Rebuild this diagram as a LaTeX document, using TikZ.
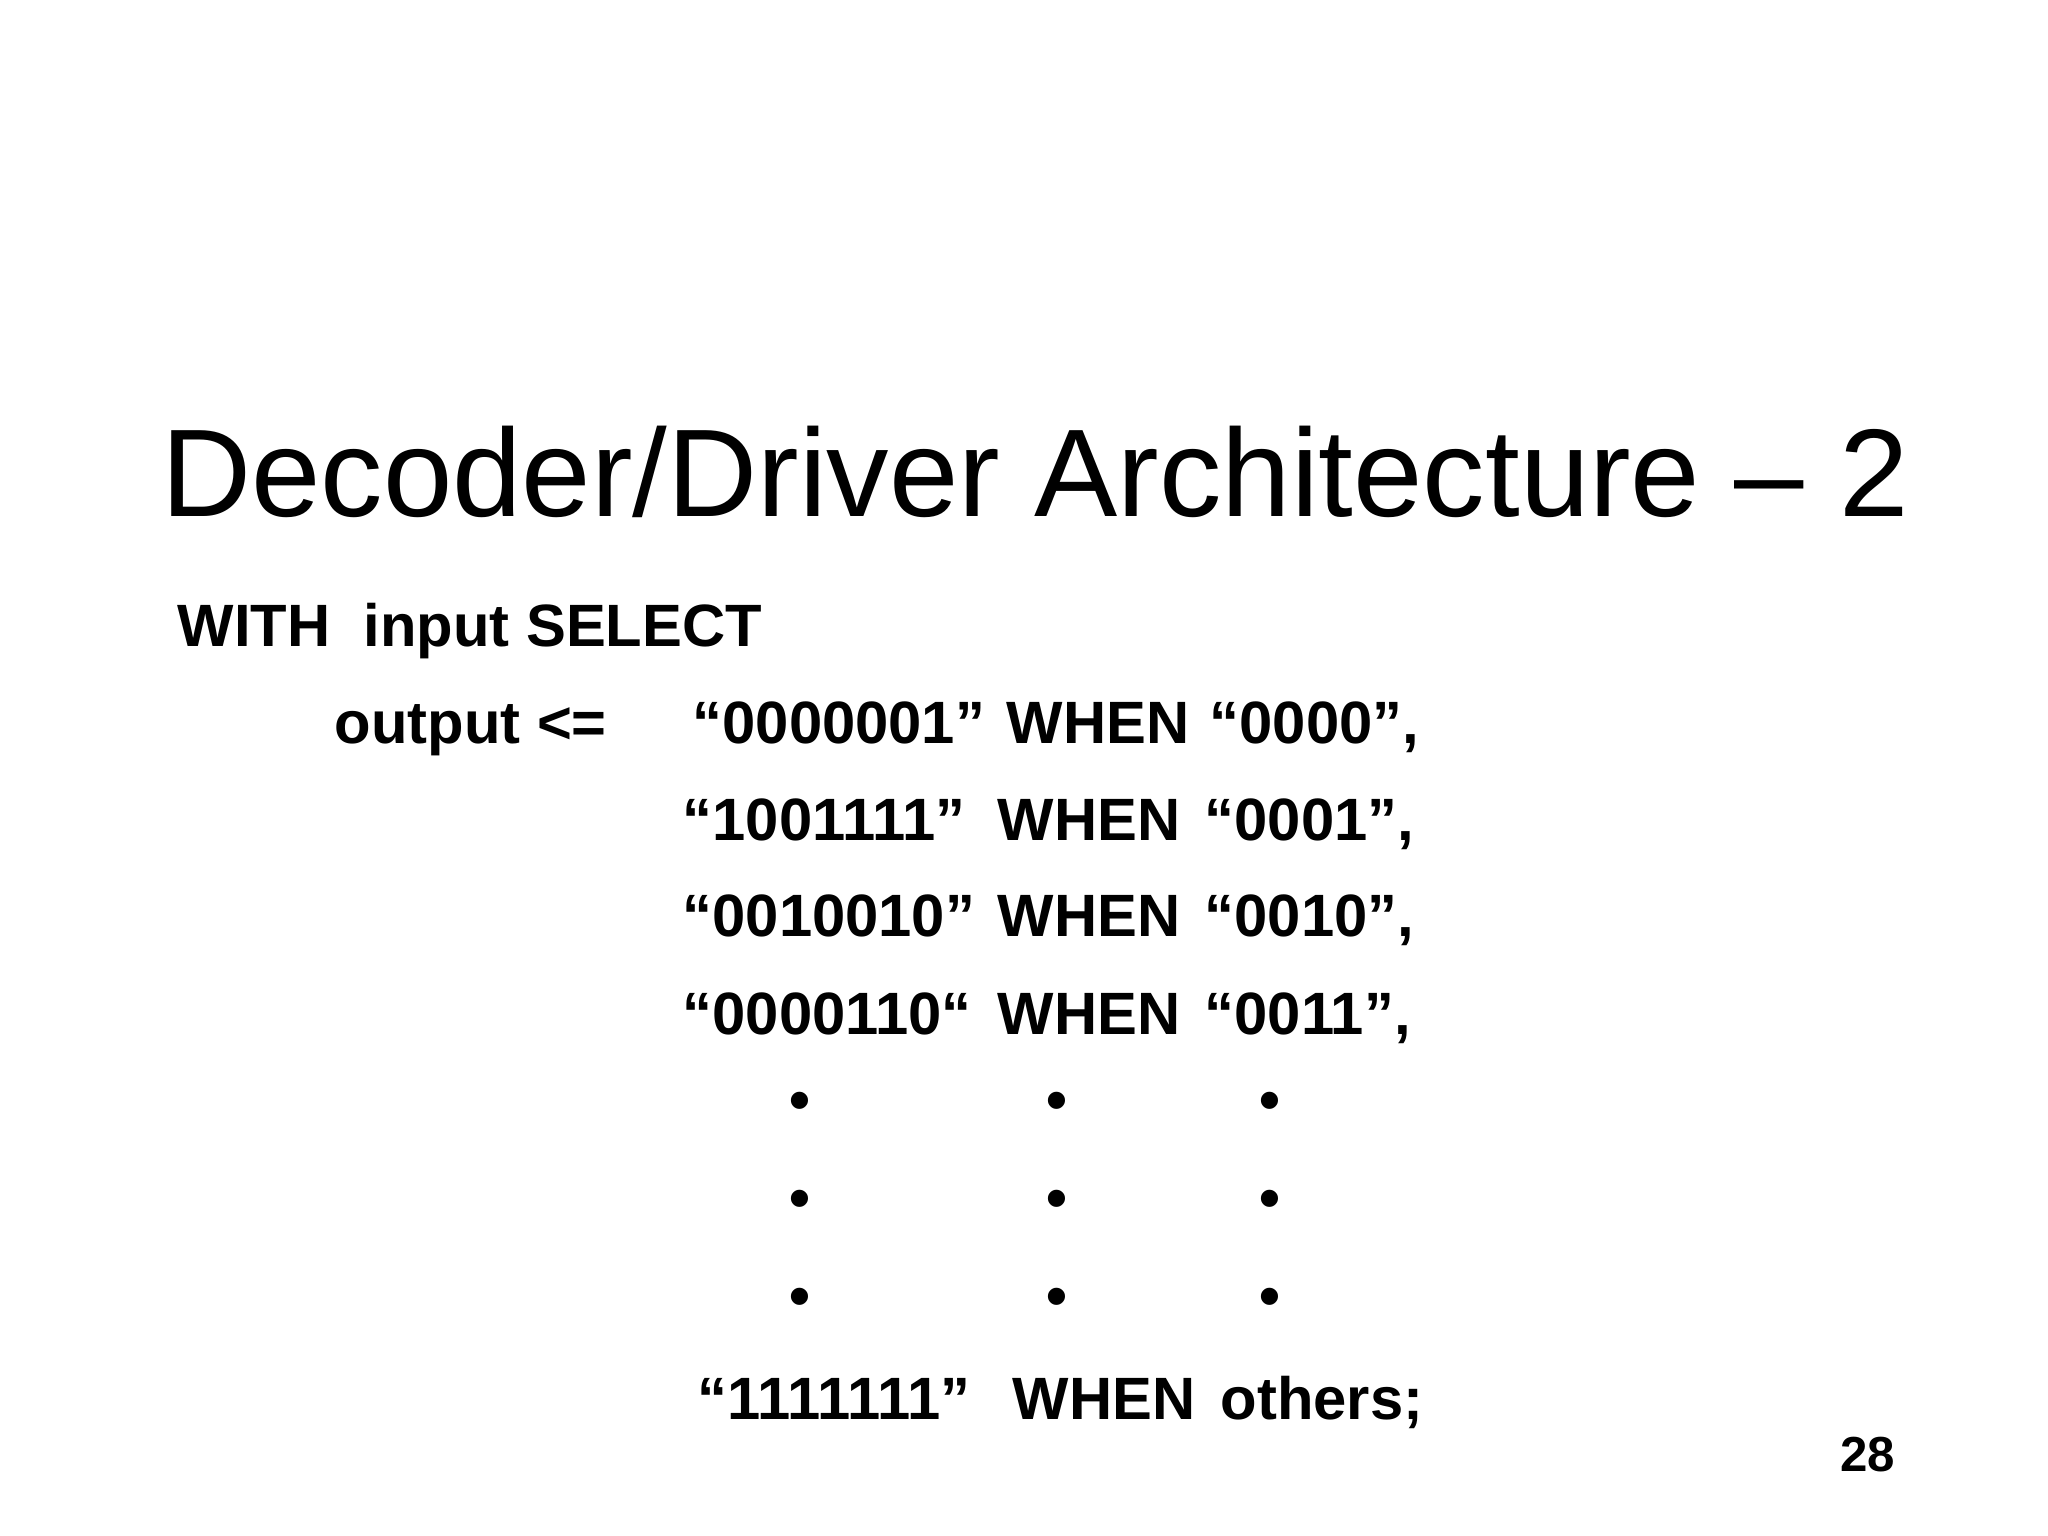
\documentclass[tikz,border=0pt]{standalone}
\usepackage{fontspec}
\setmainfont{Liberation Sans}
\begin{document}
\begin{tikzpicture}[x=1cm,y=1cm,
  code/.style={anchor=west,inner sep=0pt,text height=0.42cm,text depth=0cm,font=\fontsize{17}{20}\selectfont\bfseries},
  dot/.style={inner sep=0pt,font=\fontsize{17}{20}\selectfont\bfseries}]
\useasboundingbox (0,0) rectangle (20.48,15.36);
\node[inner sep=0pt,font=\fontsize{35.5}{40}\selectfont] (title) at (10.35,10.64) {Decoder/Driver Architecture -- 2};
\node[code] (with) at (1.77,15.36-6.26) {WITH\ \ input SELECT};
\node[code] (out) at (3.34,15.36-7.23) {output <=};
\node[code] (a1) at (6.92,15.36-7.23) {“0000001”};
\node[code] (b1) at (10.06,15.36-7.23) {WHEN};
\node[code] (c1) at (12.09,15.36-7.23) {“0000”,};
\node[code] (a2) at (6.82,15.36-8.20) {“1001111”};
\node[code] (b2) at (9.97,15.36-8.20) {WHEN};
\node[code] (c2) at (12.04,15.36-8.20) {“0001”,};
\node[code] (a3) at (6.82,15.36-9.16) {“0010010”};
\node[code] (b3) at (9.97,15.36-9.16) {WHEN};
\node[code] (c3) at (12.04,15.36-9.16) {“0010”,};
\node[code] (a4) at (6.82,15.36-10.14) {“0000110“};
\node[code] (b4) at (9.97,15.36-10.14) {WHEN};
\node[code] (c4) at (12.04,15.36-10.14) {“0011”,};
\foreach \y [count=\i] in {11.06,12.04,13.02}{
  \node[dot] (da\i) at (8.00,15.36-\y) {•};
  \node[dot] (db\i) at (10.57,15.36-\y) {•};
  \node[dot] (dc\i) at (12.70,15.36-\y) {•};
}
\node[code] (a5) at (6.97,15.36-13.99) {“1111111”};
\node[code] (b5) at (10.12,15.36-13.99) {WHEN};
\node[code] (c5) at (12.20,15.36-13.99) {others;};
\node[inner sep=0pt,font=\fontsize{14}{16}\selectfont\bfseries] (pg) at (18.68,15.36-14.55) {28};
\end{tikzpicture}
\end{document}
